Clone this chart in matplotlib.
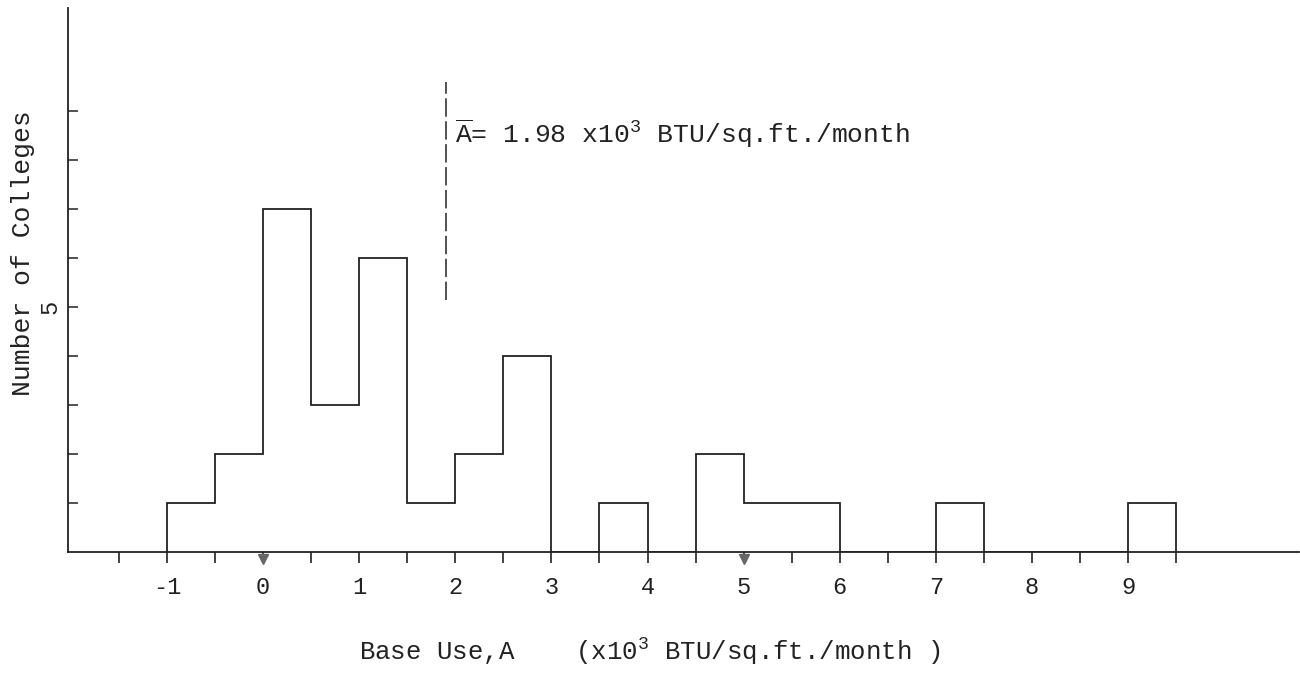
import matplotlib.pyplot as plt
import numpy as np

# histogram data, bins of 0.5 (x10^3 BTU/sq.ft./month)
bin_edges = [-1, -0.5, 0, 0.5, 1, 1.5, 2, 2.5, 3, 3.5, 4, 4.5, 5, 5.5, 6,
             6.5, 7, 7.5, 8, 8.5, 9, 9.5]
counts = [1, 2, 7, 3, 6, 1, 2, 4, 0, 1, 0, 2, 1, 1, 0, 0, 1, 0, 0, 0, 1]
x_ticks = [-1, 0, 1, 2, 3, 4, 5, 6, 7, 8, 9]
y_ticks = [1, 2, 3, 4, 5, 6, 7, 8, 9]
mean_line_x = 1.9
mean_line_y = [5.15, 9.6]

ink = "#222222"
font = "Liberation Mono"
plt.rcParams["mathtext.fontset"] = "custom"
plt.rcParams["mathtext.rm"] = font
plt.rcParams["mathtext.it"] = font

fig = plt.figure(figsize=(13, 6.79), dpi=100)
ax = fig.add_axes([0.0523, 0.187, 0.947, 0.801])

ax.stairs(counts, bin_edges, color=ink, linewidth=1.3)

# mean marker
ax.plot([mean_line_x, mean_line_x], mean_line_y, color=ink, linewidth=1.1,
        linestyle=(0, (12, 3)))
ax.text(mean_line_x + 0.1, 8.35,
        r"$\overline{\mathrm{A}}$= 1.98 x10$^{3}$ BTU/sq.ft./month",
        fontsize=19, family=font, color=ink, va="baseline")

ax.set_xlim(-2.03, 10.78)
ax.set_ylim(0, 11.1)

for side in ["top", "right"]:
    ax.spines[side].set_visible(False)
for side in ["left", "bottom"]:
    ax.spines[side].set_color(ink)
    ax.spines[side].set_linewidth(1.3)

ax.set_xticks(x_ticks)
ax.set_xticks(np.arange(-1.5, 10, 1.0), minor=True)
ax.set_xticklabels([str(t) for t in x_ticks], family=font, fontsize=17, color=ink)
ax.tick_params(axis="x", which="both", direction="out", length=8, width=1.2,
               color=ink, pad=9)

ax.set_yticks(y_ticks)
ax.set_yticklabels([""] * len(y_ticks))
ax.tick_params(axis="y", which="both", direction="in", length=7, width=1.1,
               color=ink)
ax.text(-2.22, 5, "5", rotation=90, fontsize=17, family=font, color=ink,
        ha="center", va="center")

# small triangle marks under the axis at 0 and 5
ax.plot([0, 5], [-0.15, -0.15], marker="v", markersize=7, linestyle="none",
        color="#666666", clip_on=False)

ax.set_ylabel("Number of Colleges", family=font, fontsize=19, color=ink)
ax.yaxis.set_label_coords(-0.027, 0.55)
fig.text(0.5, 0.028,
         r"Base Use,A    (x10$^{3}$ BTU/sq.ft./month )",
         family=font, fontsize=18.5, color=ink, ha="center")

fig.savefig("out.png", dpi=100)
